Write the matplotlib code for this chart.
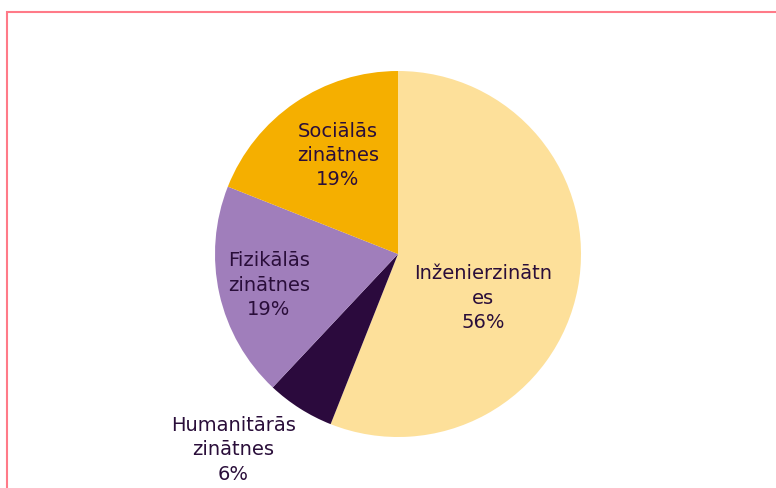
import matplotlib.pyplot as plt
import matplotlib.patches as patches
import numpy as np

# data
categories = ['Inženierzinātn\nes', 'Humanitārās\nzinātnes', 'Fizikālās\nzinātnes', 'Sociālās\nzinātnes']
shares = [56, 6, 19, 19]
colors = ['#FDE09A', '#2B0A3D', '#A07EBB', '#F5AF00']

# label positions (pie radius = 1), tuned by eye
label_pos = [(0.465, -0.235), (-0.90, -1.065), (-0.705, -0.165), (-0.328, 0.545)]
text_color = '#2A0E3A'

fig = plt.figure(figsize=(7.76, 4.89), dpi=100)
ax = fig.add_axes([215/776, 51/489, 366/776, 366/489])

wedges, _ = ax.pie(shares, colors=colors, startangle=90, counterclock=False,
                   wedgeprops=dict(linewidth=0))
total = sum(shares)
for w, cat, val, (lx, ly) in zip(wedges, categories, shares, label_pos):
    ax.text(lx, ly, '%s\n%d%%' % (cat, round(100*val/total)), ha='center', va='center',
            fontsize=14, color=text_color, linespacing=1.35, family='DejaVu Sans')

ax.set_xlim(-1, 1)
ax.set_ylim(-1, 1)
ax.set_aspect('equal')
ax.axis('off')

# pink frame of the chart area (cut off at right and bottom)
frame = patches.Rectangle((7/776, -0.2), 1.2, 1.2 - 12.5/489, transform=fig.transFigure,
                          fill=False, edgecolor='#FF7A88', linewidth=1.5)
fig.patches.append(frame)

fig.savefig('out.png', dpi=100)
